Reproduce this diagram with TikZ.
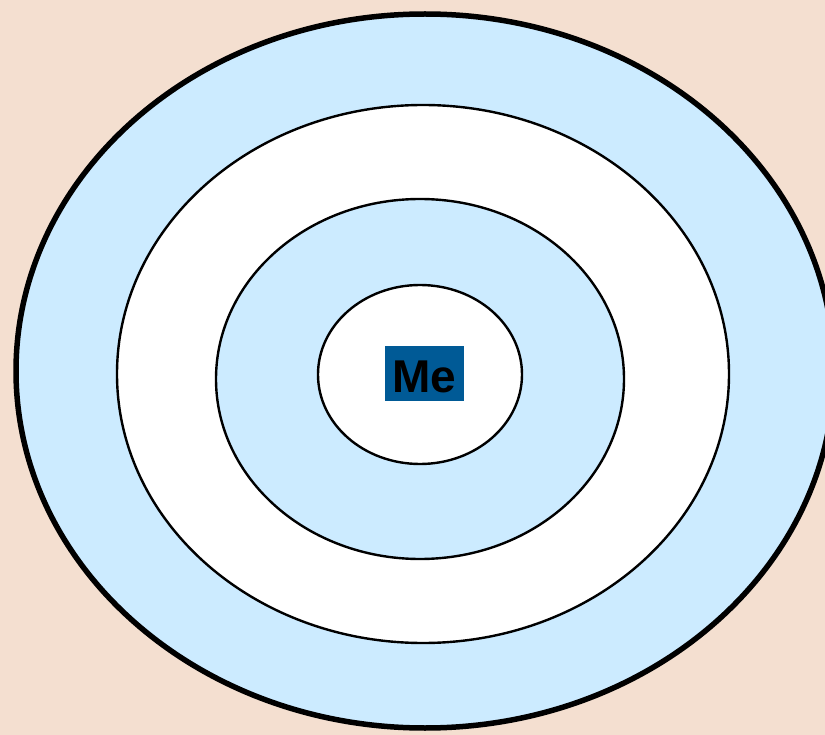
\documentclass[tikz,border=0pt]{standalone}
\usepackage{fontspec}
\setsansfont{Liberation Sans}
\usetikzlibrary{shapes.geometric}
\definecolor{cpeach}{HTML}{F4DFD0}
\definecolor{csky}{HTML}{CCEBFF}
\definecolor{cnavy}{HTML}{005A96}
\tikzset{
  every picture/.style={font=\sffamily},
  ring/.style={ellipse, draw=black, fill=#1, line width=2.4pt, inner sep=0pt},
  ring/.default=white,
  tag/.style={fill=cnavy, inner sep=0pt, minimum width=79pt, minimum height=55pt,
    text height=37pt, text depth=0pt, font=\sffamily\bfseries\fontsize{46}{46}\selectfont},
}

\begin{document}
\begin{tikzpicture}[x=1pt, y=-1pt]
  \fill[cpeach] (0,0) rectangle (825,735);
  \useasboundingbox (0,0) rectangle (825,735);
  % circles of closeness, from the outside in
  \node[ring=csky, line width=5.5pt, minimum width=818pt, minimum height=714pt] (outer) at (425,371) {};
  \node[ring, minimum width=612pt, minimum height=538pt] (second) at (423,374) {};
  \node[ring=csky, minimum width=408pt, minimum height=360pt] (third) at (420,379) {};
  \node[ring, minimum width=204pt, minimum height=179pt] (inner) at (420,374.5) {};
  \node[tag] (me) at (424.5,373.5) {Me};
\end{tikzpicture}
\end{document}
